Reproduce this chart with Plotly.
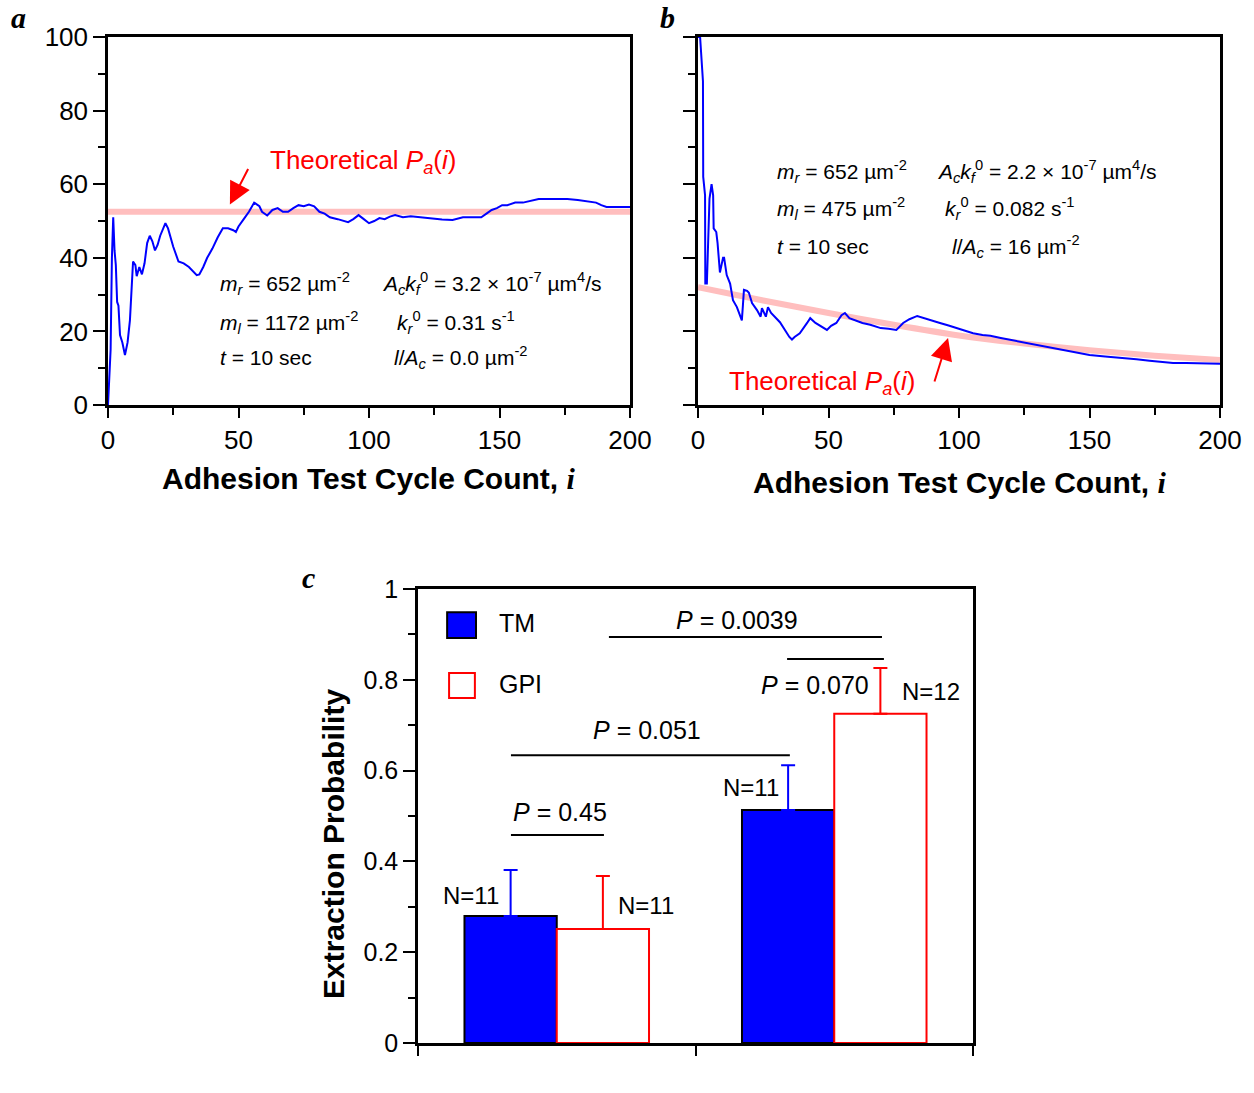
import plotly.graph_objects as go

SANS = "Liberation Sans, Arial, sans-serif"
SERIF = "Liberation Serif, Times New Roman, serif"

# ---- Panel a: running adhesion frequency (%) vs test cycle ----
a_cycle = [0, 0.5, 1, 1.5, 2, 2.5, 3, 3.5, 4, 4.6, 5.5, 6.5, 7.5, 8.4, 9, 9.6, 10.5, 11, 12, 13,
           14, 15, 16, 17, 18, 19, 20, 21, 22, 23, 24, 25, 27, 29, 31, 33, 34, 35, 36.5, 38,
           40, 42, 44, 46, 48, 49, 50, 52, 54, 56, 57, 58, 59, 61, 63, 65, 67, 69, 71, 73,
           75, 77, 79, 81, 83, 85, 88, 90, 92, 94, 96, 98, 100, 102, 104, 106, 108, 110, 113, 116,
           120, 124, 128, 132, 136, 140, 143, 145, 147, 149, 151, 153, 156, 159, 162, 165, 168, 172, 176, 180,
           184, 187, 189, 191, 193, 195, 197, 199, 200]
a_freq = [0, 8, 15, 40, 51, 42, 38, 28, 27, 19, 17, 13.6, 17, 23, 33, 39, 38, 35, 37.5, 35.5,
          38.5, 44, 46, 44.5, 42, 43.5, 46, 47.5, 49.4, 48, 45.5, 43, 39, 38.5, 37.5, 36, 35.3, 35.5, 37.5, 40,
          42.5, 45.5, 48, 48, 47.5, 47, 48.5, 50.5, 52.5, 55, 54.5, 54, 52.5, 51.5, 53, 53.5, 52.5, 52.5, 53.5, 54.3,
          54, 54.5, 54, 52.5, 52, 51, 50.5, 50, 49.7, 50.5, 51.6, 50.5, 49.4, 50, 50.8, 50.5, 51.2, 51.6, 51, 51.3,
          51, 50.6, 50.4, 50.3, 51, 51, 51, 52, 53, 53.5, 54.3, 54.3, 55, 55, 55.5, 56, 56, 56, 56, 55.7,
          55.4, 55, 54.3, 53.8, 53.8, 53.8, 54, 54, 53.8]
a_theory_cycle = [0, 200]
a_theory = [52.5, 52.5]

# ---- Panel b ----
b_cycle = [0, 0.8, 1.9, 2.0, 2.7, 2.8, 3.4, 3.6, 4.4, 5.2, 5.8, 6.0, 7, 7.5, 8.4, 9, 9.6, 10, 11, 12.3,
           13.4, 14.9, 16, 16.8, 17.2, 17.6, 18.8, 19.5, 20.7, 22.6, 24, 24.5, 26, 26.8, 28, 31.4, 35, 36, 37, 39,
           41.8, 43, 45, 47, 49.4, 51, 53, 55, 56.3, 58, 60, 63, 66, 70, 73, 76, 78.6, 81, 84, 86.5,
           89, 92.7, 96, 99, 102, 105.4, 109, 112, 116, 119.6, 125, 131, 135, 140, 145, 150, 156, 163, 168, 173,
           178, 182, 187, 192, 196, 200]
b_freq = [100, 100, 88, 62, 57, 33, 33, 39, 56, 60, 57, 48, 47, 44, 36, 38, 40, 40, 35.3, 33,
          28.5, 26.6, 24.4, 23, 27, 31.3, 31, 30.5, 27.7, 25.8, 24, 26.3, 24, 26.6, 25, 22.5, 18.5, 17.8, 18.5, 19.5,
          22.3, 23.6, 22.3, 21.5, 20.4, 21.5, 22.3, 24.4, 25, 23.6, 23, 22.3, 21.8, 20.9, 20.7, 20.4, 22.3, 23.3, 24.2, 23.6,
          23, 22.3, 21.6, 20.9, 20.2, 19.5, 19, 18.8, 18.2, 17.7, 17, 16.3, 15.7, 15, 14.3, 13.6, 13.2, 12.8, 12.4, 12,
          11.7, 11.4, 11.4, 11.3, 11.2, 11.2]
b_theory_cycle = [0, 25, 50, 75, 100, 125, 150, 175, 200]
b_theory = [32, 28.4, 25, 21.8, 18.9, 16.7, 14.9, 13.4, 12.2]

# ---- Panel c: extraction probability ----
groups = ["hIgG", "Lue-11"]
group_pos = [0.5, 1.5]
tm_prob = [0.28, 0.513]
tm_err = [0.101, 0.099]
gpi_prob = [0.251, 0.725]
gpi_err = [0.117, 0.101]
tm_n = ["N=11", "N=11"]
gpi_n = ["N=11", "N=12"]

BLUE = "#0000FF"
RED = "#FF0000"
PINK = "rgb(255,190,190)"

fig = go.Figure()

fig.add_trace(go.Scatter(x=a_theory_cycle, y=a_theory, mode="lines",
                         line=dict(color=PINK, width=6), xaxis="x", yaxis="y"))
fig.add_trace(go.Scatter(x=a_cycle, y=a_freq, mode="lines",
                         line=dict(color=BLUE, width=2), xaxis="x", yaxis="y"))
fig.add_trace(go.Scatter(x=b_theory_cycle, y=b_theory, mode="lines",
                         line=dict(color=PINK, width=6, shape="spline", smoothing=0.6),
                         xaxis="x2", yaxis="y2"))
fig.add_trace(go.Scatter(x=b_cycle, y=b_freq, mode="lines",
                         line=dict(color=BLUE, width=2), xaxis="x2", yaxis="y2"))

fig.add_trace(go.Bar(x=group_pos, y=tm_prob, name="TM", offsetgroup="tm",
                     marker=dict(color=BLUE, line=dict(color="black", width=2)),
                     error_y=dict(type="data", array=tm_err, arrayminus=[0, 0], symmetric=False,
                                  color=BLUE, thickness=2, width=7),
                     xaxis="x3", yaxis="y3"))
fig.add_trace(go.Bar(x=group_pos, y=gpi_prob, name="GPI", offsetgroup="gpi",
                     marker=dict(color="white", line=dict(color=RED, width=2)),
                     error_y=dict(type="data", array=gpi_err, arrayminus=[0, 0], symmetric=False,
                                  color=RED, thickness=2, width=7),
                     xaxis="x3", yaxis="y3"))


def lin_axis(**kw):
    base = dict(showline=True, linecolor="black", linewidth=2.5, mirror=True,
                ticks="outside", ticklen=12, tickwidth=2, tickcolor="black",
                showgrid=False, zeroline=False, automargin=False,
                tickfont=dict(family=SANS, size=26, color="black"))
    base.update(kw)
    return base


W, H = 1254, 1093


def dom_x(p0, p1):
    return [p0 / W, p1 / W]


def dom_y(top, bottom):
    return [1 - bottom / H, 1 - top / H]


MINOR = dict(ticks="outside", ticklen=7, tickwidth=2, tickcolor="black")

fig.update_layout(
    width=W, height=H,
    margin=dict(l=0, r=0, t=0, b=0, autoexpand=False),
    paper_bgcolor="white", plot_bgcolor="white",
    showlegend=False,
    barmode="group", bargap=0.335, bargroupgap=0,
    font=dict(family=SANS, color="black"),
    xaxis=lin_axis(domain=dom_x(108, 630), range=[0, 200], anchor="y",
                   tickvals=[0, 50, 100, 150, 200], ticklen=10,
                   minor=dict(dtick=25, tick0=0, **MINOR)),
    yaxis=lin_axis(domain=dom_y(37, 405), range=[0, 100], anchor="x",
                   tickvals=[0, 20, 40, 60, 80, 100],
                   minor=dict(dtick=10, tick0=0, **MINOR)),
    xaxis2=lin_axis(domain=dom_x(698, 1220), range=[0, 200], anchor="y2",
                    tickvals=[0, 50, 100, 150, 200], ticklen=10,
                    minor=dict(dtick=25, tick0=0, **MINOR)),
    yaxis2=lin_axis(domain=dom_y(37, 405), range=[0, 100], anchor="x2",
                    tickvals=[0, 20, 40, 60, 80, 100], showticklabels=False,
                    minor=dict(dtick=10, tick0=0, **MINOR)),
    xaxis3=lin_axis(domain=dom_x(418, 973), range=[0, 2], anchor="y3",
                    tickvals=[0, 1, 2], showticklabels=False, ticklen=10),
    yaxis3=lin_axis(domain=dom_y(589, 1043), range=[0, 1], anchor="x3",
                    tickvals=[0, 0.2, 0.4, 0.6, 0.8, 1],
                    ticktext=["0", "0.2", "0.4", "0.6", "0.8", "1"],
                    tickfont=dict(family=SANS, size=25, color="black"),
                    minor=dict(dtick=0.1, tick0=0, **MINOR)),
)

ann = []


def txt(x, y, text, xref, yref, size=21, color="black", xanchor="left", yanchor="middle", **kw):
    ann.append(dict(x=x, y=y, text=text, xref=xref, yref=yref, showarrow=False,
                    xanchor=xanchor, yanchor=yanchor,
                    font=dict(family=SANS, size=size, color=color), **kw))


# panel letters
for lx, ly, letter in [(18, 17, "a"), (667, 17, "b"), (308, 577, "c")]:
    ann.append(dict(x=lx / W, y=1 - ly / H, xref="paper", yref="paper", showarrow=False,
                    text="<b><i>%s</i></b>" % letter, xanchor="center", yanchor="middle",
                    font=dict(family=SERIF, size=30, color="black")))

# axis titles
xtitle = 'Adhesion Test Cycle Count, <span style="font-family:Liberation Serif"><i>i</i></span>'
txt(369 / W, 1 - 478 / H, "<b>" + xtitle + "</b>", "paper", "paper", size=30, xanchor="center")
txt(960 / W, 1 - 482 / H, "<b>" + xtitle + "</b>", "paper", "paper", size=30, xanchor="center")
ann.append(dict(x=333 / W, y=1 - 844 / H, xref="paper", yref="paper", showarrow=False,
                text="<b>Extraction Probability</b>", textangle=-90,
                xanchor="center", yanchor="middle", font=dict(family=SANS, size=30, color="black")))

# theoretical labels and arrows
theo = "Theoretical <i>P</i><sub><i>a</i></sub>(<i>i</i>)"
txt(61.3, 66.3, theo, "x", "y", size=26, color=RED)
txt(11.1, 6.0, theo, "x2", "y2", size=26, color=RED)
ann.append(dict(x=46.7, y=54.5, xref="x", yref="y", text="", showarrow=True,
                ax=19, ay=-37, arrowhead=2, arrowsize=2.2, arrowwidth=2, arrowcolor=RED))
ann.append(dict(x=95.8, y=18.2, xref="x2", yref="y2", text="", showarrow=True,
                ax=-14, ay=45, arrowhead=2, arrowsize=2.2, arrowwidth=2, arrowcolor=RED))

# parameter blocks
mr = "<i>m</i><sub><i>r</i></sub> = 652 µm<sup>-2</sup>"
t10 = "<i>t</i> = 10 sec"
txt(42.1, 33.0, mr, "x", "y")
txt(42.1, 22.5, "<i>m</i><sub><i>l</i></sub> = 1172 µm<sup>-2</sup>", "x", "y")
txt(42.1, 13.0, t10, "x", "y")
txt(104.3, 33.0, "<i>A</i><sub><i>c</i></sub><i>k</i><sub><i>f</i></sub><sup>0</sup> = 3.2 × 10<sup>-7</sup> µm<sup>4</sup>/s", "x", "y")
txt(110.0, 22.5, "<i>k</i><sub><i>r</i></sub><sup>0</sup> = 0.31 s<sup>-1</sup>", "x", "y")
txt(108.8, 13.0, "<i>l</i>/<i>A</i><sub><i>c</i></sub> = 0.0 µm<sup>-2</sup>", "x", "y")

txt(29.5, 63.5, mr, "x2", "y2")
txt(29.5, 53.4, "<i>m</i><sub><i>l</i></sub> = 475 µm<sup>-2</sup>", "x2", "y2")
txt(29.5, 43.2, t10, "x2", "y2")
txt(90.8, 63.5, "<i>A</i><sub><i>c</i></sub><i>k</i><sub><i>f</i></sub><sup>0</sup> = 2.2 × 10<sup>-7</sup> µm<sup>4</sup>/s", "x2", "y2")
txt(93.9, 53.4, "<i>k</i><sub><i>r</i></sub><sup>0</sup> = 0.082 s<sup>-1</sup>", "x2", "y2")
txt(96.6, 43.2, "<i>l</i>/<i>A</i><sub><i>c</i></sub> = 16 µm<sup>-2</sup>", "x2", "y2")

# panel c: category labels
for gx, g in zip(group_pos, groups):
    txt(gx, -0.07, "<b>%s</b>" % g, "x3", "y3", size=29, xanchor="center")

# panel c: sample sizes
txt(0.191, 0.326, tm_n[0], "x3", "y3", size=24, xanchor="center")
txt(0.822, 0.302, gpi_n[0], "x3", "y3", size=24, xanchor="center")
txt(1.200, 0.562, tm_n[1], "x3", "y3", size=24, xanchor="center")
txt(1.849, 0.775, gpi_n[1], "x3", "y3", size=24, xanchor="center")

# panel c: significance brackets
shapes = []
brackets = [
    (0.688, 1.672, 0.894, "<i>P</i> = 0.0039", 1.15, 0.932),
    (1.330, 1.679, 0.846, "<i>P</i> = 0.070", 1.43, 0.789),
    (0.335, 1.340, 0.634, "<i>P</i> = 0.051", 0.825, 0.689),
    (0.335, 0.670, 0.458, "<i>P</i> = 0.45", 0.512, 0.509),
]
for x0, x1, yl, label, tx, ty in brackets:
    shapes.append(dict(type="line", xref="x3", yref="y3", x0=x0, x1=x1, y0=yl, y1=yl,
                       line=dict(color="black", width=2)))
    txt(tx, ty, label, "x3", "y3", size=25, xanchor="center")

# panel c: legend keys
shapes.append(dict(type="rect", xref="x3", yref="y3", x0=0.105, x1=0.209, y0=0.892, y1=0.949,
                   fillcolor=BLUE, line=dict(color="black", width=2)))
shapes.append(dict(type="rect", xref="x3", yref="y3", x0=0.112, x1=0.205, y0=0.760, y1=0.815,
                   fillcolor="white", line=dict(color=RED, width=2)))
txt(0.285, 0.925, "TM", "x3", "y3", size=25)
txt(0.285, 0.791, "GPI", "x3", "y3", size=25)

fig.update_layout(annotations=ann, shapes=shapes)

fig.write_html("out.html")
